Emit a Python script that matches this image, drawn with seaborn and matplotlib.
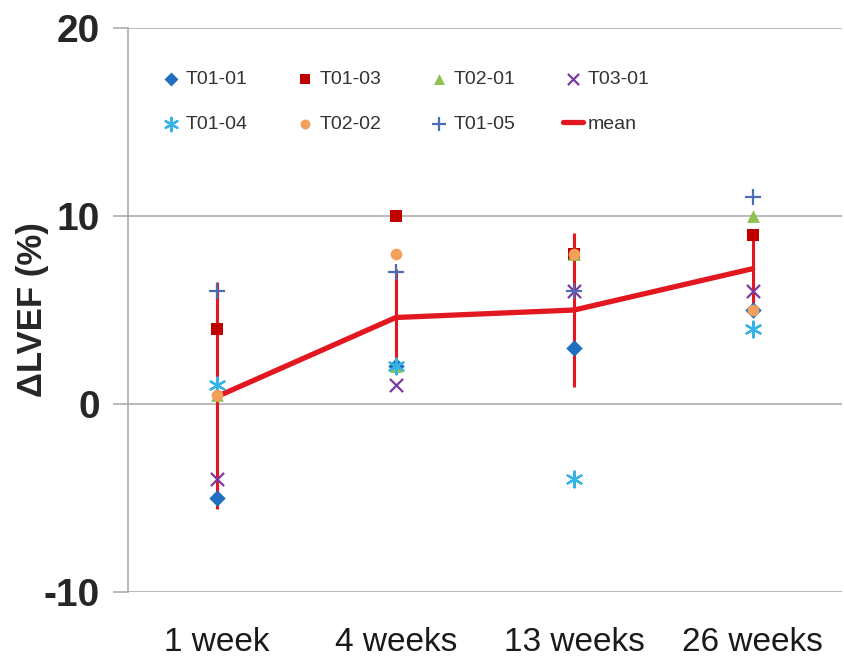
import matplotlib
matplotlib.use("Agg")
import matplotlib.pyplot as plt
import seaborn as sns
import pandas as pd

# time points (x categories)
timepoints = ["1 week", "4 weeks", "13 weeks", "26 weeks"]

# change in LVEF (%) per subject
t01_01 = [-5.0, 2.0, 3.0, 5.0]
t01_03 = [4.0, 10.0, 8.0, 9.0]
t02_01 = [0.5, 2.0, 8.0, 10.0]
t03_01 = [-4.0, 1.0, 6.0, 6.0]
t01_04 = [1.0, 2.0, -4.0, 4.0]
t02_02 = [0.5, 8.0, 8.0, 5.0]
t01_05 = [6.0, 7.0, 6.0, 11.0]

# mean line and its error bar ends
mean_vals = [0.4, 4.6, 5.0, 7.2]
err_low = [-5.6, 2.3, 0.9, 5.0]
err_high = [6.5, 7.2, 9.1, 9.3]

subjects = ["T01-01", "T01-03", "T02-01", "T03-01", "T01-04", "T02-02", "T01-05"]
values = [t01_01, t01_03, t02_01, t03_01, t01_04, t02_02, t01_05]

# (marker, colour, size) per subject
styles = {
    "T01-01": ("D", "#1F6FC0", 70),
    "T01-03": ("s", "#C00000", 80),
    "T02-01": ("^", "#8FC14E", 85),
    "T03-01": ("x", "#7A3A9E", 90),
    "T01-04": ((6, 2, 0), "#35B3E6", 130),
    "T02-02": ("o", "#F2A05C", 70),
    "T01-05": ("+", "#4C6CB4", 130),
}

rows = []
for name, vals in zip(subjects, values):
    for i, v in enumerate(vals):
        rows.append({"subject": name, "x": i, "value": v})
df = pd.DataFrame(rows)

sns.set_theme(style="white")
plt.rcParams["font.family"] = ["Liberation Sans", "DejaVu Sans"]

fig = plt.figure(figsize=(8.44, 6.61), dpi=100)
ax = fig.add_axes([128 / 844, 1 - 592 / 661, 714 / 844, 564 / 661])

grid_col = "#A6A6A6"
for yv in [20, 10, 0, -10]:
    ax.axhline(yv, color=grid_col, lw=1.1, zorder=0)

# mean with error bars
xs = list(range(len(timepoints)))
lower = [m - lo for m, lo in zip(mean_vals, err_low)]
upper = [hi - m for m, hi in zip(mean_vals, err_high)]
ax.errorbar(xs, mean_vals, yerr=[lower, upper], fmt="none", ecolor="#E3171F",
            elinewidth=2.2, capsize=0, zorder=2)
mean_df = pd.DataFrame({"x": xs, "value": mean_vals})
sns.lineplot(data=mean_df, x="x", y="value", color="#E3171F", lw=3.8,
             ax=ax, zorder=3, label="mean")

for name in subjects:
    m, c, s = styles[name]
    sub = df[df["subject"] == name]
    kw = dict(color=c, marker=m, s=s, ax=ax, zorder=4, label=name)
    if m in ("D", "s", "^", "o"):
        kw.update(edgecolor=c, linewidth=0)
    else:
        kw.update(linewidth=1.6)
    sns.scatterplot(data=sub, x="x", y="value", **kw)

ax.set_xlim(-0.5, 3.5)
ax.set_ylim(-10, 20)
ax.set_yticks([-10, 0, 10, 20])
ax.set_xticks(xs)
ax.set_xticklabels(timepoints, fontsize=24, color="#1A1A1A")
ax.set_yticklabels(["-10", "0", "10", "20"], fontsize=28, fontweight="bold")
ax.tick_params(axis="y", length=11, width=1.1, color=grid_col, pad=9, left=True)
ax.tick_params(axis="x", length=0, pad=25)
ax.set_xlabel("")
ax.set_ylabel("ΔLVEF (%)", fontsize=25, fontweight="bold")
ax.yaxis.set_label_coords(-0.111, 0.5)

for side in ["top", "right", "bottom"]:
    ax.spines[side].set_visible(False)
ax.spines["left"].set_color(grid_col)
ax.spines["left"].set_linewidth(1.1)

# legend in row-major order for 4 columns
h, l = ax.get_legend_handles_labels()
lookup = dict(zip(l, h))
order = ["T01-01", "T01-04", "T01-03", "T02-02", "T02-01", "T01-05", "T03-01", "mean"]
leg = ax.legend([lookup[k] for k in order], order, ncol=4, loc="upper left",
                bbox_to_anchor=(0.047, 0.925), frameon=False, fontsize=14,
                handlelength=1.0, handletextpad=0.25, columnspacing=2.45,
                labelspacing=1.4, borderpad=0, borderaxespad=0, markerscale=0.85)
for t in leg.get_texts():
    t.set_color("#333333")

fig.savefig("out.png", dpi=100)
